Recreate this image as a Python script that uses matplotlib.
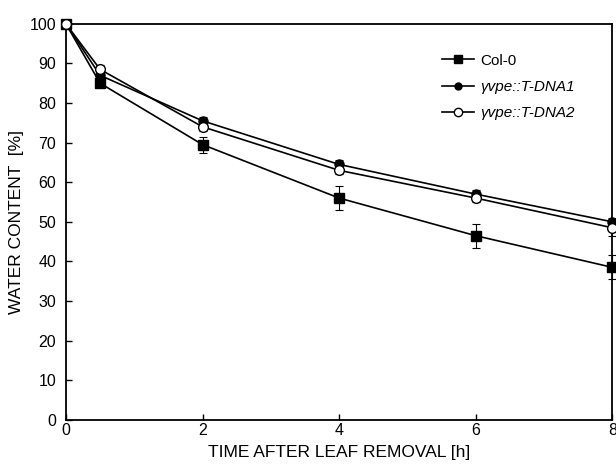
import matplotlib
matplotlib.use("Agg")
import matplotlib.pyplot as plt
from matplotlib.lines import Line2D

plt.rcParams['font.family'] = ['Liberation Sans', 'DejaVu Sans']

hours = [0, 0.5, 2, 4, 6, 8]

col0 = [100, 85.0, 69.5, 56.0, 46.5, 38.5]
col0_err = [0, 1.0, 2.0, 3.0, 3.0, 3.0]

tdna1 = [100, 87.0, 75.5, 64.5, 57.0, 50.0]
tdna1_err = [0, 1.0, 1.0, 1.0, 1.0, 1.0]

tdna2 = [100, 88.5, 74.0, 63.0, 56.0, 48.5]
tdna2_err = [0, 1.0, 1.0, 1.0, 1.0, 2.0]

labels = ['Col-0', 'γvpe::T-DNA1', 'γvpe::T-DNA2']

fig = plt.figure(figsize=(6.16, 4.67), dpi=100)
ax = fig.add_axes([0.107, 0.101, 0.887, 0.848])

common = dict(color='black', lw=1.2, elinewidth=0.8, capsize=3, capthick=0.8, clip_on=False)
ax.errorbar(hours, col0, yerr=col0_err, marker='s', ms=7.2, mfc='black', mec='black',
            zorder=3, **common)
ax.errorbar(hours, tdna1, yerr=tdna1_err, marker='o', ms=6.5, mfc='black', mec='black',
            zorder=4, **common)
ax.errorbar(hours, tdna2, yerr=tdna2_err, marker='o', ms=7, mfc='white', mec='black',
            zorder=5, **common)

ax.set_xlim(0, 8)
ax.set_ylim(0, 100)
ax.set_xticks([0, 2, 4, 6, 8])
ax.set_yticks(range(0, 101, 10))
ax.tick_params(direction='in', length=4, width=1, labelsize=11.5)
ax.tick_params(axis='x', pad=2)
ax.tick_params(axis='y', pad=7)
for s in ax.spines.values():
    s.set_linewidth(1.3)

ax.set_xlabel('TIME AFTER LEAF REMOVAL [h]', fontsize=12.5, labelpad=5)
ax.set_ylabel('WATER CONTENT  [%]', fontsize=12.5, labelpad=4)

# legend: plain line + marker, no error bars
handles = [
    Line2D([], [], color='black', lw=1.2, marker='s', ms=5.5, mfc='black'),
    Line2D([], [], color='black', lw=1.2, marker='o', ms=5, mfc='black'),
    Line2D([], [], color='black', lw=1.2, marker='o', ms=6, mfc='white', mec='black'),
]
leg = fig.legend(handles, labels, loc='upper left', bbox_to_anchor=(0.7175, 0.885),
                 frameon=False, fontsize=11, handlelength=2.1, handletextpad=0.4,
                 labelspacing=0.8, borderpad=0, borderaxespad=0)
for t in leg.get_texts()[1:]:
    t.set_fontstyle('italic')

fig.savefig('out.png', dpi=100)
